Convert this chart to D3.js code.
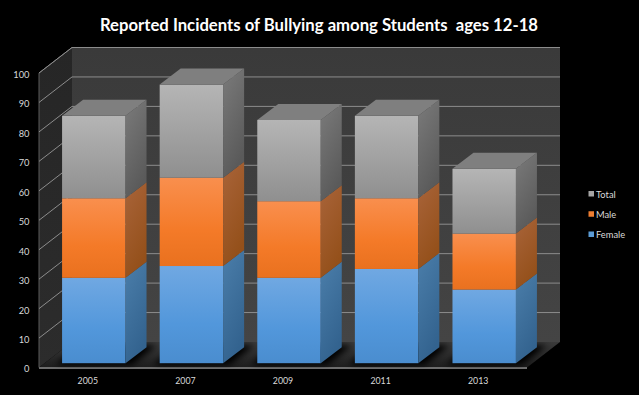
<!DOCTYPE html>
<html>
<head>
<meta charset="utf-8">
<script src="https://cdnjs.cloudflare.com/ajax/libs/d3/7.8.5/d3.min.js"></script>
<style>
  html, body { margin: 0; padding: 0; background: #000; overflow: hidden; }
  text { font-family: Lato, "Open Sans", sans-serif; fill: #d9d9d9; }
</style>
</head>
<body>
<svg id="chart" width="639" height="395"></svg>
<script>
const TITLE = "Reported Incidents of Bullying among Students  ages 12-18"
const YEARS = ["2005", "2007", "2009", "2011", "2013"]
const FEMALE = [29, 33, 29, 32, 25]
const MALE = [27, 30, 26, 24, 19]
const TOTAL = [28, 31.6, 27.6, 28, 22]
const TICKS = [0, 10, 20, 30, 40, 50, 60, 70, 80, 90, 100]
const LABELS = ["Total", "Male", "Female"]

const plotLeft = 39, plotRight = 527, plotBottom = 367.5, plotTop = 73
const depth = { x: 33, y: -25.5 }      // back wall offset
const barOffset = { x: 6, y: -4.3 }    // front of the bars sits a little way in
const barDepth = { x: 21, y: -16 }

const svg = d3.select("#chart")
const defs = svg.append("defs")

const x = d3.scaleBand().domain(YEARS).range([plotLeft, plotRight]).paddingInner(0.35).paddingOuter(0.175)
const xSlot = d3.scaleBand().domain(YEARS).range([plotLeft, plotRight])
const y = d3.scaleLinear().domain([0, 100]).range([plotBottom, plotTop])

const points = p => p.map(d => d.join(",")).join(" ")
const back = (px, py) => [px + depth.x, py + depth.y]

function grad(id, stops, x2 = 0, y2 = 1) {
    const g = defs.append("linearGradient").attr("id", id)
        .attr("x1", 0).attr("y1", 0).attr("x2", x2).attr("y2", y2)
    stops.forEach(s => g.append("stop").attr("offset", s[0]).attr("stop-color", s[1]))
}
grad("wall", [[0, "#3a3a3a"], [1, "#444444"]])
grad("sideWall", [[0, "#262626"], [1, "#2c2c2c"]])
grad("floor", [[0, "#3a3a3a"], [1, "#1d1d1d"]])
grad("front-Female", [[0, "#70a8e2"], [0.6, "#5297db"], [1, "#4a8dcf"]])
grad("front-Male", [[0, "#f98f4e"], [0.6, "#f47a28"], [1, "#e9711f"]])
grad("front-Total", [[0, "#b5b5b5"], [1, "#8f8f8f"]])
grad("side-Female", [[0, "#4b7eaa"], [1, "#33638f"]], 0.4, 1)
grad("side-Male", [[0, "#a9643a"], [1, "#94501a"]], 0.4, 1)
grad("side-Total", [[0, "#7b7b7b"], [1, "#5a5a5a"]], 0.4, 1)

defs.append("filter").attr("id", "blur")
    .attr("x", "-30%").attr("y", "-60%").attr("width", "160%").attr("height", "220%")
    .append("feGaussianBlur").attr("stdDeviation", 3)

// walls and floor
svg.append("polygon").attr("fill", "url(#wall)")
    .attr("points", points([back(plotLeft, plotTop), back(plotRight, plotTop), back(plotRight, plotBottom), back(plotLeft, plotBottom)]))
svg.append("polygon").attr("fill", "url(#sideWall)")
    .attr("points", points([[plotLeft, plotTop], back(plotLeft, plotTop), back(plotLeft, plotBottom), [plotLeft, plotBottom]]))
svg.append("polygon").attr("fill", "url(#floor)")
    .attr("points", points([[plotLeft, plotBottom], back(plotLeft, plotBottom), back(plotRight, plotBottom), [plotRight, plotBottom]]))

// wall edges
svg.append("polyline").attr("fill", "none").attr("stroke", "#6a6a6a").attr("stroke-width", 1)
    .attr("points", points([[plotLeft, plotTop], back(plotLeft, plotTop), back(plotRight, plotTop)]))
svg.append("line").attr("stroke", "#5a5a5a")
    .attr("x1", plotLeft).attr("y1", plotTop).attr("x2", plotLeft).attr("y2", plotBottom)

// gridlines, back wall and side wall
TICKS.filter(d => d > 0).forEach(d => {
    svg.append("polyline").attr("fill", "none").attr("stroke", "#8c8c8c").attr("stroke-width", 1)
        .attr("points", points([[plotLeft, y(d)], back(plotLeft, y(d)), back(plotRight, y(d))]))
})

// front lip of the floor
svg.append("line").attr("stroke", "#6e6e6e").attr("stroke-width", 2)
    .attr("x1", plotLeft).attr("y1", plotBottom + 0.5).attr("x2", plotRight).attr("y2", plotBottom + 0.5)

// shadows on the floor
const floorClip = defs.append("clipPath").attr("id", "floorClip")
floorClip.append("polygon")
    .attr("points", points([[plotLeft, plotBottom], back(plotLeft, plotBottom), back(plotRight, plotBottom), [plotRight, plotBottom]]))
const shadows = svg.append("g").attr("clip-path", "url(#floorClip)")
YEARS.forEach(yr => {
    const x0 = x(yr) + barOffset.x, x1 = x0 + x.bandwidth(), b = plotBottom + barOffset.y
    shadows.append("polygon").attr("fill", "#000").attr("filter", "url(#blur)")
        .attr("points", points([[x0 - 6, b + 2], [x0 + barDepth.x - 6, b + barDepth.y - 2],
            [x1 + barDepth.x + 10, b + barDepth.y - 2], [x1 + 6, b + 2]]))
})

// bars
const stacked = d3.stack().keys(["Female", "Male", "Total"])(
    YEARS.map((yr, i) => ({ yr, Female: FEMALE[i], Male: MALE[i], Total: TOTAL[i] })))

YEARS.forEach((yr, i) => {
    const g = svg.append("g").attr("class", "bar")
    const x0 = x(yr) + barOffset.x, x1 = x0 + x.bandwidth()
    stacked.forEach((layer, li) => {
        const name = layer.key
        const yLow = y(layer[i][0]) + barOffset.y, yHigh = y(layer[i][1]) + barOffset.y
        g.append("rect").attr("x", x0).attr("y", yHigh)
            .attr("width", x1 - x0).attr("height", yLow - yHigh)
            .attr("fill", "url(#front-" + name + ")")
        g.append("polygon").attr("fill", "url(#side-" + name + ")")
            .attr("points", points([[x1, yHigh], [x1 + barDepth.x, yHigh + barDepth.y],
                [x1 + barDepth.x, yLow + barDepth.y], [x1, yLow]]))
        if (li === stacked.length - 1) {
            g.append("polygon").attr("fill", "#7f7f7f")
                .attr("points", points([[x0, yHigh], [x0 + barDepth.x, yHigh + barDepth.y],
                    [x1 + barDepth.x, yHigh + barDepth.y], [x1, yHigh]]))
        }
    })
})

// axes
const yAxis = d3.axisLeft(y).tickValues(TICKS).tickSize(0).tickPadding(9.5)
svg.append("g").attr("transform", "translate(" + plotLeft + ",1.5)").call(yAxis)
    .call(a => a.select(".domain").remove())
    .selectAll("text").style("font-family", "Lato, sans-serif").style("font-size", "9.3px")

const xAxis = d3.axisBottom(xSlot).tickSize(0).tickPadding(10.5)
svg.append("g").attr("transform", "translate(0," + plotBottom + ")").call(xAxis)
    .call(a => a.select(".domain").remove())
    .selectAll("text").style("font-family", "Lato, sans-serif").style("font-size", "8.8px")

// title
svg.append("text").attr("x", 319).attr("y", 31).attr("text-anchor", "middle")
    .style("font-size", "16.7px").style("font-weight", "700").style("fill", "#fff")
    .style("white-space", "pre").text(TITLE)

// legend
const legendColor = d3.scaleOrdinal().domain(LABELS).range(["#a5a5a5", "#ed7d31", "#5b9bd5"])
const legendY = d3.scalePoint().domain(LABELS).range([194, 234.5])
LABELS.forEach(l => {
    svg.append("rect").attr("x", 588.5).attr("y", legendY(l) - 3).attr("width", 5.5).attr("height", 5.5)
        .attr("fill", legendColor(l))
    svg.append("text").attr("x", 596).attr("y", legendY(l) + 3.5)
        .style("font-size", "9.3px").text(l)
})
</script>
</body>
</html>
